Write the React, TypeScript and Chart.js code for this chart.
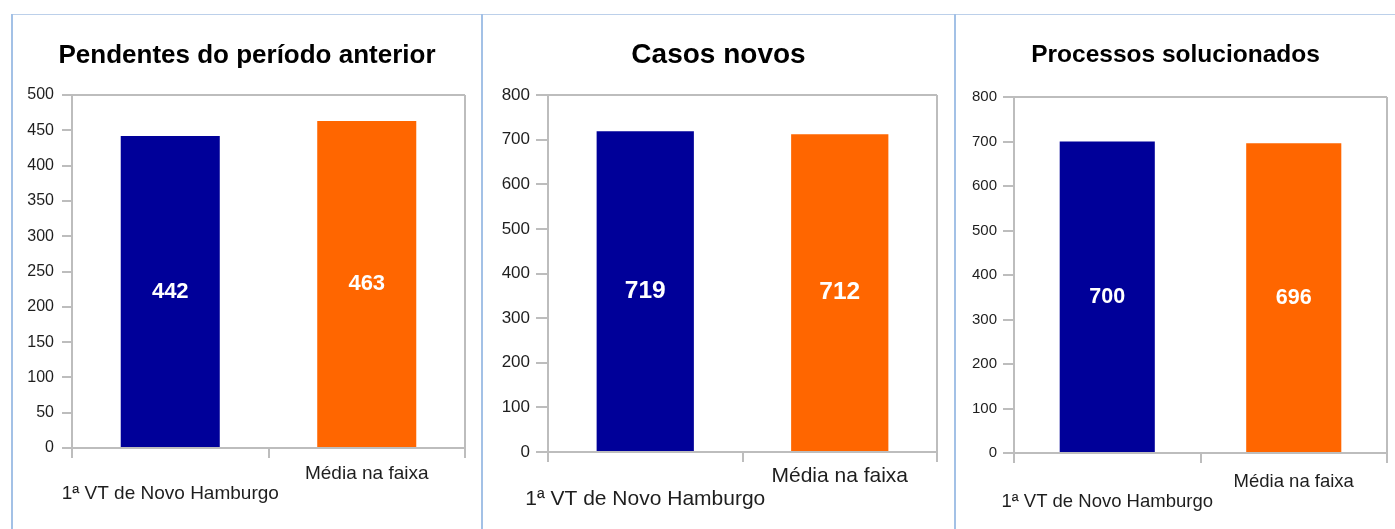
import React, { useEffect, useRef } from 'react';
import { Chart, registerables } from 'chart.js';

Chart.register(...registerables);

// ---- data ----
const categories: (string | string[])[] = [["", "1ª VT de Novo Hamburgo"], ["Média na faixa"]];
const titles = ["Pendentes do período anterior", "Casos novos", "Processos solucionados"];
const pendentesValues = [442, 463];
const casosNovosValues = [719, 712];
const solucionadosValues = [700, 696];
const seriesValues = [pendentesValues, casosNovosValues, solucionadosValues];
const yMaxes = [500, 800, 800];
const ySteps = [50, 100, 100];
const barColors = ["#000099", "#ff6600"];

const FONT = '"Liberation Sans", Arial, sans-serif';
const GRAY = '#bdbdbd';
const TEXT = '#1e1e1e';

type PanelLayout = {
  left: number; width: number; height: number;
  titleSize: number; titlePadTop: number; titlePadBottom: number;
  yWidth: number; yTickLen: number; yPad: number; yFont: number;
  xHeight: number; xTickLen: number; xPad: number; xFont: number; xLineH: number;
  padRight: number; valueFont: number; barPct: number;
};

const layouts: PanelLayout[] = [
  { left: 13, width: 468, height: 514, titleSize: 26, titlePadTop: 25.4, titlePadBottom: 23.4,
    yWidth: 59, yTickLen: 10, yPad: 8, yFont: 16, xHeight: 81, xTickLen: 10, xPad: 5.5, xFont: 19, xLineH: 20 / 19,
    padRight: 16, valueFont: 22, barPct: 0.504 },
  { left: 483, width: 471, height: 514, titleSize: 28, titlePadTop: 23.7, titlePadBottom: 22.7,
    yWidth: 65, yTickLen: 12, yPad: 6, yFont: 17, xHeight: 77, xTickLen: 10, xPad: 3.25, xFont: 21, xLineH: 22.5 / 21,
    padRight: 17, valueFont: 24.5, barPct: 0.5 },
  { left: 956, width: 439, height: 514, titleSize: 24.5, titlePadTop: 25.8, titlePadBottom: 26.8,
    yWidth: 58, yTickLen: 11, yPad: 6, yFont: 15, xHeight: 76, xTickLen: 10, xPad: 8.25, xFont: 18.5, xLineH: 20.5 / 18.5,
    padRight: 8, valueFont: 21.5, barPct: 0.51 },
];

function makeValuePlugin(size: number) {
  return {
    id: 'barValueLabels',
    afterDatasetsDraw(chart: any) {
      const ctx = chart.ctx;
      ctx.save();
      ctx.fillStyle = '#ffffff';
      ctx.font = `bold ${size}px ${FONT}`;
      ctx.textAlign = 'center';
      ctx.textBaseline = 'middle';
      chart.data.datasets.forEach((ds: any, di: number) => {
        const meta = chart.getDatasetMeta(di);
        meta.data.forEach((el: any, i: number) => {
          const p = el.getProps(['x', 'y', 'base'], true);
          ctx.fillText(String(ds.data[i]), p.x, (p.y + p.base) / 2);
        });
      });
      ctx.restore();
    },
  };
}

function Panel({ index }: { index: number }) {
  const ref = useRef<HTMLCanvasElement | null>(null);
  const L = layouts[index];
  useEffect(() => {
    if (!ref.current) return;
    const yMax = yMaxes[index];
    const chart = new Chart(ref.current, {
      type: 'bar',
      data: {
        labels: categories as any,
        datasets: [{
          data: seriesValues[index],
          backgroundColor: barColors,
          borderWidth: 0,
          categoryPercentage: 1,
          barPercentage: L.barPct,
          yAxisID: 'y',
        }],
      },
      options: {
        animation: false,
        responsive: false,
        devicePixelRatio: 1,
        layout: { padding: 0 },
        plugins: {
          legend: { display: false },
          tooltip: { enabled: false },
          title: {
            display: true,
            text: titles[index],
            color: '#000000',
            font: { family: FONT, size: L.titleSize, weight: 'bold', lineHeight: 1.2 },
            padding: { top: L.titlePadTop, bottom: L.titlePadBottom },
          },
        },
        scales: {
          x: {
            type: 'category',
            offset: true,
            afterFit: (s: any) => { s.height = L.xHeight; },
            grid: {
              display: true,
              offset: true,
              drawOnChartArea: true,
              drawTicks: true,
              tickLength: L.xTickLen,
              lineWidth: 2,
              color: (c: any) => (c.index === 1 ? 'rgba(0,0,0,0)' : GRAY),
              tickColor: GRAY,
            },
            border: { display: true, color: GRAY, width: 2 },
            ticks: {
              autoSkip: false,
              maxRotation: 0,
              minRotation: 0,
              padding: L.xPad,
              color: TEXT,
              font: { family: FONT, size: L.xFont, lineHeight: L.xLineH },
            },
          },
          y: {
            position: 'left',
            min: 0,
            max: yMax,
            afterFit: (s: any) => { s.width = L.yWidth; },
            grid: {
              display: true,
              drawOnChartArea: true,
              drawTicks: true,
              tickLength: L.yTickLen,
              lineWidth: 2,
              color: (c: any) => (c.tick && c.tick.value === yMax ? GRAY : 'rgba(0,0,0,0)'),
              tickColor: GRAY,
            },
            border: { display: true, color: GRAY, width: 2 },
            ticks: {
              stepSize: ySteps[index],
              padding: L.yPad,
              color: TEXT,
              font: { family: FONT, size: L.yFont },
            },
          },
          spacer: {
            type: 'linear',
            position: 'right',
            display: true,
            afterFit: (s: any) => { s.width = L.padRight; },
            grid: { display: false, drawOnChartArea: false, drawTicks: false },
            border: { display: false },
            ticks: { display: false },
          },
        },
      },
      plugins: [makeValuePlugin(L.valueFont)],
    } as any);
    return () => chart.destroy();
  }, [index]);
  return (
    <canvas
      ref={ref}
      width={L.width}
      height={L.height}
      style={{ position: 'absolute', left: L.left, top: 15, width: L.width, height: L.height }}
    />
  );
}

export default function App() {
  const lineBlue = '#a3c1e6';
  return (
    <div style={{ position: 'absolute', left: 0, top: 0, width: 1395, height: 529, background: '#ffffff', overflow: 'hidden' }}>
      <div style={{ position: 'absolute', left: 11, top: 14, width: 1384, height: 1, background: '#bcd0ea' }} />
      <div style={{ position: 'absolute', left: 11, top: 14, width: 2, height: 515, background: lineBlue }} />
      <div style={{ position: 'absolute', left: 481, top: 14, width: 2, height: 515, background: lineBlue }} />
      <div style={{ position: 'absolute', left: 954, top: 14, width: 2, height: 515, background: lineBlue }} />
      <Panel index={0} />
      <Panel index={1} />
      <Panel index={2} />
    </div>
  );
}
